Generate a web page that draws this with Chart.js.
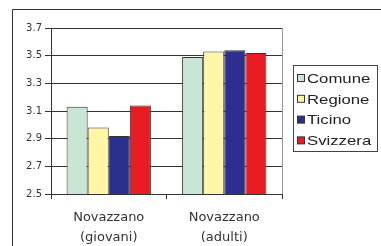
<!DOCTYPE html>
<html lang="it">
<head>
    <meta charset="UTF-8">
    <title>Novazzano</title>
    <script src="https://cdn.jsdelivr.net/npm/chart.js"></script>
    <style>
        html, body { margin: 0; padding: 0; background: #fff; }
        #wrap { position: relative; width: 381px; height: 246px; }
    </style>
</head>
<body>
<div id="wrap"><canvas id="barChart" width="381" height="246"></canvas></div>
<script>
    var categories = [['Novazzano', '(giovani)'], ['Novazzano', '(adulti)']];
    var seriesNames = ['Comune', 'Regione', 'Ticino', 'Svizzera'];
    var comune = [3.13, 3.49];
    var regione = [2.98, 3.53];
    var ticino = [2.92, 3.54];
    var svizzera = [3.14, 3.52];
    var yTicks = [2.5, 2.7, 2.9, 3.1, 3.3, 3.5, 3.7];
    var colors = ['#c9e5d3', '#fff7a6', '#2c2f8e', '#e91c24'];

    // frame lines, plot border and boxed legend
    var extras = {
        id: 'extras',
        beforeDraw: function(chart) {
            var c = chart.ctx;
            c.save();
            c.strokeStyle = '#333';
            c.lineWidth = 1;
            c.beginPath();
            c.moveTo(12.5, 246);
            c.lineTo(12.5, 9.5);
            c.lineTo(381, 9.5);
            c.stroke();
            c.restore();
        },
        afterDraw: function(chart) {
            var c = chart.ctx, a = chart.chartArea;
            c.save();
            c.strokeStyle = '#999';
            c.lineWidth = 1;
            c.beginPath();
            c.moveTo(Math.round(a.right) + 0.5, a.top);
            c.lineTo(Math.round(a.right) + 0.5, a.bottom);
            c.stroke();
            // legend
            c.strokeStyle = '#444';
            c.strokeRect(293.5, 65.5, 84, 86);
            c.textBaseline = 'middle';
            chart.data.datasets.forEach(function(ds, i) {
                var y = 79 + i * 20.8;
                c.fillStyle = ds.backgroundColor;
                c.fillRect(297.5, y - 4.5, 7, 7);
                c.strokeStyle = '#333';
                c.strokeRect(297.5, y - 4.5, 7, 7);
                c.save();
                c.translate(307, y);
                c.scale(1.24, 1);
                c.font = '13.5px "Liberation Sans", Arial, sans-serif';
                c.fillStyle = '#222';
                c.fillText(ds.label, 0, 0);
                c.restore();
            });
            c.restore();
        }
    };

    var datasets = [comune, regione, ticino, svizzera].map(function(vals, i) {
        return {
            label: seriesNames[i],
            data: vals,
            backgroundColor: colors[i],
            borderColor: '#333',
            borderWidth: 1,
            categoryPercentage: 0.73,
            barPercentage: 1
        };
    });

    var ctx = document.getElementById('barChart').getContext('2d');
    var barChart = new Chart(ctx, {
        type: 'bar',
        data: { labels: categories, datasets: datasets },
        plugins: [extras],
        options: {
            responsive: false,
            animation: false,
            layout: { padding: { top: 28, right: 99, bottom: 0, left: 0 } },
            plugins: { legend: { display: false }, tooltip: { enabled: false } },
            scales: {
                x: {
                    afterFit: function(s) { s.height = 52; },
                    grid: { offset: true, drawOnChartArea: false, drawTicks: true, tickLength: 5, color: '#333' },
                    border: { color: '#333' },
                    ticks: {
                        color: '#333',
                        padding: 9,
                        font: { family: '"DejaVu Sans", sans-serif', size: 13, lineHeight: 1.5 }
                    }
                },
                y: {
                    min: 2.5,
                    max: 3.7,
                    afterFit: function(s) { s.width = 51; },
                    afterBuildTicks: function(s) {
                        s.ticks = yTicks.map(function(v) { return { value: v }; });
                    },
                    grid: { color: '#333', tickLength: 6 },
                    border: { color: '#333' },
                    ticks: {
                        color: '#333',
                        padding: 3,
                        font: { family: '"DejaVu Sans", sans-serif', size: 10 },
                        callback: function(v) { return v.toFixed(1); }
                    }
                }
            }
        }
    });
</script>
</body>
</html>
